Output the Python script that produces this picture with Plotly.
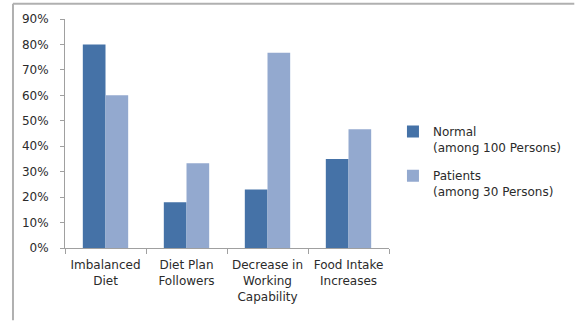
import plotly.graph_objects as go

categories = ["Imbalanced<br>Diet", "Diet Plan<br>Followers", "Decrease in<br>Working<br>Capability", "Food Intake<br>Increases"]
normal = [0.80, 0.18, 0.23, 0.35]
patients = [0.60, 0.333, 0.767, 0.467]
series_names = ["Normal<br>(among 100 Persons)", "Patients<br>(among 30 Persons)"]
colors = ["#4572A7", "#93A9CF"]

FONT = "DejaVu Sans"
TXT = "#2b2b2b"

fig = go.Figure()
fig.add_trace(go.Bar(x=categories, y=normal, name=series_names[0], marker_color=colors[0],
                     marker_line_width=0, legendgroup="a"))
fig.add_trace(go.Bar(x=categories, y=patients, name=series_names[1], marker_color=colors[1],
                     marker_line_width=0, legendgroup="b"))

L, R, T, B = 65, 392, 17, 248
W, H = 579, 321
pw, ph = R - L, B - T

def px_x(x):
    return (x - L) / pw

def px_y(y):
    return (B - y) / ph

fig.update_layout(
    width=W, height=H,
    margin=dict(l=L, r=W - R, t=T, b=H - B, pad=0),
    paper_bgcolor="white", plot_bgcolor="white",
    font=dict(family=FONT, size=12, color=TXT),
    barmode="group", bargap=0.44, bargroupgap=0,
    showlegend=True,
    legend=dict(x=px_x(396), y=px_y(116), xanchor="left", yanchor="top",
                valign="top", font=dict(family=FONT, size=12, color=TXT),
                tracegroupgap=10, bgcolor="rgba(0,0,0,0)", itemwidth=30),
    xaxis=dict(showline=True, linecolor="#A0A0A0", linewidth=1, ticks="outside",
               tickson="boundaries", ticklen=5, tickcolor="#A0A0A0", showgrid=False,
               ticklabelstandoff=6,
               tickfont=dict(family=FONT, size=12, color=TXT), fixedrange=True),
    yaxis=dict(range=[0, 0.9], dtick=0.1, tickformat=".0%", showline=True,
               linecolor="#A0A0A0", linewidth=1, ticks="outside", ticklen=4,
               tickcolor="#A0A0A0", showgrid=False, zeroline=False,
               ticklabelstandoff=9,
               tickfont=dict(family=FONT, size=12, color=TXT), fixedrange=True),
    shapes=[
        dict(type="line", xref="paper", yref="paper", x0=px_x(12.5), x1=px_x(579), y0=px_y(1.5), y1=px_y(1.5),
             line=dict(color="#B0B0B0", width=2)),
        dict(type="line", xref="paper", yref="paper", x0=px_x(12.5), x1=px_x(12.5), y0=px_y(1.5), y1=px_y(321),
             line=dict(color="#B0B0B0", width=2)),
    ],
)

fig.write_html("out.html", config={"displayModeBar": False})
